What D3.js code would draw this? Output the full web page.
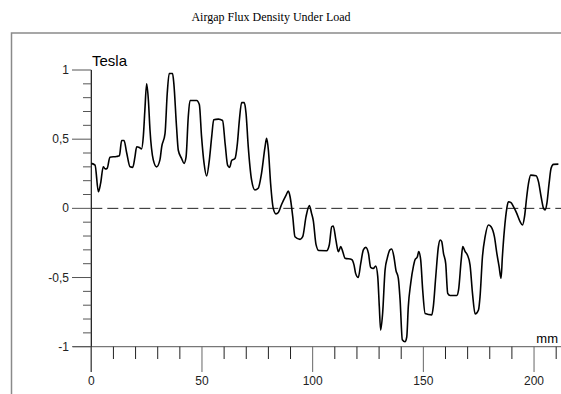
<!DOCTYPE html>
<html>
<head>
<meta charset="utf-8">
<script src="https://cdn.jsdelivr.net/npm/d3@7"></script>
<style>
  body { margin: 0; background: #fff; }
  svg { display: block; }
</style>
</head>
<body>
<script>
'use strict';

// position along the airgap (mm) and flux density (Tesla)
const positionMm = [
  0, 1.7, 3.2, 4.2, 5.4, 6.3, 7.2, 8.4, 11.4, 12.7, 13.7, 14.8, 16, 17.5, 18.7, 19.7,
  20.5, 21.7, 22.7, 23.5, 24.2, 25, 25.8, 26.5, 28, 29.5, 31, 31.8, 33.3, 34.3, 35.2,
  36.7, 37.3, 38.5, 39.3, 40.8, 41.9, 42.8, 43.8, 44.6, 47.6, 48.8, 49.8, 50.9, 52.1,
  53.4, 54.4, 55.3, 57.4, 59.3, 60.5, 61.6, 62.5, 63.4, 64.9, 66, 66.9, 67.9, 69.1,
  69.9, 70.9, 72.4, 73.9, 75.4, 76.9, 78.5, 79.2, 80, 81, 82.2, 83.4, 84.5, 86, 88,
  89, 89.8, 91, 92, 94.3, 95.5, 97, 98.5, 99.5, 100.3, 101.5, 102.8, 106.3, 107.5,
  108.6, 109.3, 110.5, 111.6, 112.7, 113.6, 114.6, 117.6, 118.7, 119.4, 120.6, 121.7,
  122.9, 124, 125.2, 126.2, 127.4, 128.5, 129.4, 130.1, 130.7, 131.6, 132.7, 133.7,
  134.9, 135.7, 136.7, 137.6, 138.7, 139.5, 140.5, 141.7, 142.5, 143.2, 144.3, 145.5,
  146.2, 147.3, 147.9, 148.8, 149.7, 150.8, 153.8, 154.5, 155.6, 156.8, 157.6, 158.3,
  159.1, 160.1, 161, 162.1, 165.1, 165.9, 167.1, 167.8, 168.9, 169.9, 171.1, 172.2,
  173.4, 174.9, 175.6, 176.7, 177.9, 179.4, 180.6, 182.1, 183.2, 184.2, 185.1, 185.7,
  186.6, 187.7, 188.4, 189.6, 190.7, 192.2, 193.7, 194.8, 195.7, 196.7, 197.5, 198.5,
  200.9, 202, 203.2, 204.3, 205, 205.8, 206.8, 207.7, 208.8, 211
];
const fluxTesla = [
  0.325, 0.313, 0.12, 0.18, 0.30, 0.285, 0.29, 0.37, 0.375, 0.38, 0.49, 0.49, 0.40, 0.30, 0.296, 0.37,
  0.445, 0.44, 0.43, 0.52, 0.71, 0.90, 0.78, 0.57, 0.35, 0.30, 0.35, 0.445, 0.54, 0.83, 0.975,
  0.975, 0.90, 0.59, 0.42, 0.36, 0.325, 0.37, 0.66, 0.78, 0.78, 0.75, 0.52, 0.33, 0.234,
  0.36, 0.52, 0.64, 0.645, 0.635, 0.46, 0.31, 0.296, 0.345, 0.36, 0.47, 0.64, 0.764, 0.764,
  0.687, 0.446, 0.205, 0.133, 0.145, 0.253, 0.446, 0.506, 0.42, 0.18, 0, -0.04, -0.03, 0.03, 0.096,
  0.125, 0.084, -0.06, -0.205, -0.224, -0.205, -0.06, 0.02, -0.036, -0.09, -0.26, -0.305, -0.306, -0.265,
  -0.133, -0.128, -0.229, -0.313, -0.277, -0.313, -0.36, -0.369, -0.41, -0.47, -0.50, -0.40,
  -0.30, -0.282, -0.325, -0.426, -0.434, -0.417, -0.494, -0.71, -0.88, -0.76, -0.446, -0.36,
  -0.30, -0.294, -0.35, -0.446, -0.506, -0.663, -0.95, -0.964, -0.93, -0.71, -0.54, -0.42,
  -0.373, -0.35, -0.313, -0.373, -0.59, -0.76, -0.77, -0.71, -0.494, -0.277, -0.229, -0.24,
  -0.325, -0.40, -0.614, -0.63, -0.63, -0.59, -0.373, -0.277, -0.313, -0.337, -0.41, -0.614,
  -0.764, -0.735, -0.64, -0.35, -0.205, -0.12, -0.133, -0.205, -0.325, -0.42, -0.506, -0.35,
  -0.157, 0, 0.048, 0.041, 0.012, -0.036, -0.096, -0.12, -0.06, 0.084, 0.18, 0.24,
  0.236, 0.193, 0.084, 0, -0.012, 0.036, 0.18, 0.29, 0.318, 0.32
];

// tick values and labels
const xMajorTicks = [0, 50, 100, 150, 200];
const xMinorTicks = d3.range(0, 211, 10);
const yMajorTicks = [-1, -0.5, 0, 0.5, 1];
const yMajorLabels = ["-1", "-0,5", "0", "0,5", "1"];
const yMinorTicks = d3.range(-10, 11).map((i) => i / 10);

(function() {

  let svgContainer = "";

  window.onload = function() {
    svgContainer = d3.select('body')
      .append('svg')
      .attr('width', 561)
      .attr('height', 394);

    let scales = drawAxes();
    plotData(scales);
    makeLabels();
  }

  // scales, frame, axes and ticks
  function drawAxes() {
    let xScale = d3.scaleLinear()
      .domain([0, 212])
      .range([91.3, 560.6]);

    let yScale = d3.scaleLinear()
      .domain([-1, 1])
      .range([346.7, 70]);

    // outer frame
    svgContainer.append('rect')
      .attr('x', 11.5)
      .attr('y', 33)
      .attr('width', 600)
      .attr('height', 400)
      .attr('fill', 'none')
      .attr('stroke', '#8a8a8a')
      .attr('stroke-width', 1.5);

    // zero line
    svgContainer.append('line')
      .attr('x1', xScale(0))
      .attr('x2', 561)
      .attr('y1', yScale(0))
      .attr('y2', yScale(0))
      .attr('stroke', '#222')
      .attr('stroke-width', 1)
      .style('stroke-dasharray', '11, 5');

    // x axis line
    svgContainer.append('line')
      .attr('x1', 73)
      .attr('x2', 561)
      .attr('y1', yScale(-1))
      .attr('y2', yScale(-1))
      .attr('stroke', '#777')
      .attr('stroke-width', 1.2);

    // y axis line
    svgContainer.append('line')
      .attr('x1', xScale(0))
      .attr('x2', xScale(0))
      .attr('y1', yScale(1))
      .attr('y2', 372)
      .attr('stroke', '#111')
      .attr('stroke-width', 1.2);

    // x ticks
    svgContainer.selectAll('.xminor')
      .data(xMinorTicks)
      .enter()
      .append('line')
      .attr('class', 'xminor')
      .attr('x1', (d) => xScale(d))
      .attr('x2', (d) => xScale(d))
      .attr('y1', yScale(-1))
      .attr('y2', (d) => xMajorTicks.includes(d) ? 372 : 359)
      .attr('stroke', (d) => xMajorTicks.includes(d) ? '#666' : '#222')
      .attr('stroke-width', 1);

    svgContainer.selectAll('.xlabel')
      .data(xMajorTicks)
      .enter()
      .append('text')
      .attr('class', 'xlabel')
      .attr('x', (d) => xScale(d))
      .attr('y', 385)
      .attr('text-anchor', 'middle')
      .style('font-family', 'Liberation Sans, Arial, sans-serif')
      .style('font-size', '12px')
      .style('fill', '#222')
      .text((d) => d);

    // y ticks
    svgContainer.selectAll('.yminor')
      .data(yMinorTicks)
      .enter()
      .append('line')
      .attr('class', 'yminor')
      .attr('x1', (d) => yMajorTicks.includes(d) ? 72 : 83)
      .attr('x2', xScale(0))
      .attr('y1', (d) => yScale(d))
      .attr('y2', (d) => yScale(d))
      .attr('stroke', '#555')
      .attr('stroke-width', 1);

    svgContainer.selectAll('.ylabel')
      .data(yMajorTicks)
      .enter()
      .append('text')
      .attr('class', 'ylabel')
      .attr('x', 69)
      .attr('y', (d) => yScale(d) + 4)
      .attr('text-anchor', 'end')
      .style('font-family', 'Liberation Sans, Arial, sans-serif')
      .style('font-size', '12px')
      .style('fill', '#222')
      .text((d, i) => yMajorLabels[i]);

    return { x: xScale, y: yScale };
  }

  // the flux density curve
  function plotData(scales) {
    let points = positionMm.map((x, i) => [x, fluxTesla[i]]);

    let line = d3.line()
      .x((d) => scales.x(d[0]))
      .y((d) => scales.y(d[1]))
      .curve(d3.curveMonotoneX);

    svgContainer.append('path')
      .datum(points)
      .attr('d', line)
      .attr('fill', 'none')
      .attr('stroke', '#000')
      .attr('stroke-width', 1.6)
      .attr('stroke-linejoin', 'round');
  }

  // title and unit labels
  function makeLabels() {
    svgContainer.append('text')
      .attr('x', 271)
      .attr('y', 21)
      .attr('text-anchor', 'middle')
      .style('font-family', 'Liberation Serif, Times New Roman, serif')
      .style('font-size', '12px')
      .text('Airgap Flux Density Under Load');

    svgContainer.append('text')
      .attr('x', 92)
      .attr('y', 66)
      .style('font-family', 'Liberation Sans, Arial, sans-serif')
      .style('font-size', '15px')
      .text('Tesla');

    svgContainer.append('text')
      .attr('x', 558)
      .attr('y', 343)
      .attr('text-anchor', 'end')
      .style('font-family', 'Liberation Sans, Arial, sans-serif')
      .style('font-size', '13px')
      .text('mm');
  }

})();
</script>
</body>
</html>
